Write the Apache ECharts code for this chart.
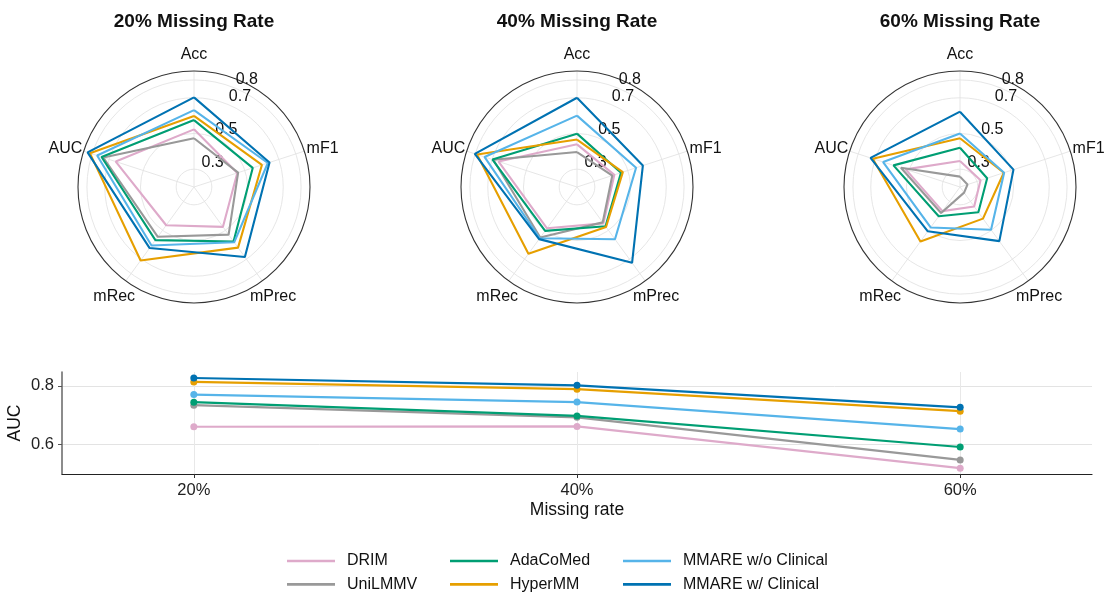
<!DOCTYPE html>
<html>
<head>
<meta charset="utf-8">
<script src="https://cdn.jsdelivr.net/npm/echarts@6/dist/echarts.min.js"></script>
<style>
html,body{margin:0;padding:0;background:#fff;}
#c{width:1105px;height:592px;}
</style>
</head>
<body>
<div id="c"></div>
<script>
// ---------- data ----------
const categories = ['Acc', 'mF1', 'mPrec', 'mRec', 'AUC'];
const methods = ['DRIM', 'UniLMMV', 'AdaCoMed', 'HyperMM', 'MMARE w/o Clinical', 'MMARE w/ Clinical'];
const colors = ['#DEAACA', '#999999', '#009E73', '#E69F00', '#56B4E9', '#0072B2'];
const missingRates = [20, 40, 60];
const rateTitles = ['20% Missing Rate', '40% Missing Rate', '60% Missing Rate'];

// radar values per method: [Acc, mF1, mPrec, mRec]  (AUC taken from the AUC arrays below)
const radar20 = [
  [0.523, 0.455, 0.476, 0.465],
  [0.473, 0.460, 0.530, 0.545],
  [0.575, 0.546, 0.577, 0.568],
  [0.598, 0.600, 0.620, 0.709],
  [0.631, 0.635, 0.583, 0.605],
  [0.702, 0.645, 0.685, 0.623]
];
const radar40 = [
  [0.439, 0.420, 0.452, 0.486],
  [0.396, 0.408, 0.445, 0.550],
  [0.499, 0.459, 0.472, 0.504],
  [0.466, 0.470, 0.477, 0.663],
  [0.600, 0.548, 0.562, 0.555],
  [0.700, 0.588, 0.725, 0.561]
];
const radar60 = [
  [0.346, 0.321, 0.335, 0.367],
  [0.258, 0.244, 0.239, 0.380],
  [0.420, 0.360, 0.375, 0.403],
  [0.473, 0.458, 0.419, 0.577],
  [0.500, 0.460, 0.496, 0.480],
  [0.622, 0.515, 0.575, 0.507]
];

// AUC per method at 20%, 40%, 60%
const aucDRIM     = [0.661, 0.662, 0.520];
const aucUniLMMV  = [0.7345, 0.693, 0.548];
const aucAdaCoMed = [0.7446, 0.698, 0.592];
const aucHyperMM  = [0.8136, 0.789, 0.714];
const aucMMAREwo  = [0.7706, 0.745, 0.653];
const aucMMAREw   = [0.827, 0.802, 0.727];

const radialTicks = [0.3, 0.5, 0.7, 0.8];
const aucTicks = [0.6, 0.8];

// ---------- build ----------
const aucAll = [aucDRIM, aucUniLMMV, aucAdaCoMed, aucHyperMM, aucMMAREwo, aucMMAREw];
const radarAll = [radar20, radar40, radar60];
const catIndex = categories.map((c, j) => j);
const centersX = [194, 577, 960];
const centerY = 187;
const R = 116;
const rMin = 0.2, rMax = 0.85;
const pxPerUnit = R / (rMax - rMin);
const labelAlong = 12.2, labelPerp = 7.7;
const rlAngle = 22.5 * Math.PI / 180;
const font = 'Liberation Sans, Arial, sans-serif';

const richStyles = {
  Acc:   {padding: [0, 0, 69, 0]},
  mF1:   {padding: [0, 0, 22, 27]},
  mPrec: {padding: [58, 0, 0, 3]},
  mRec:  {padding: [58, 6, 0, 0]},
  AUC:   {padding: [0, 26, 22, 0]}
};
Object.keys(richStyles).forEach(k => {
  Object.assign(richStyles[k], {fontSize: 16, lineHeight: 16, color: '#111', fontFamily: font});
});

const polar = [], angleAxis = [], radiusAxis = [], title = [], series = [];

for (let i = 0; i < 3; i++) {
  const cx = centersX[i];
  polar.push({center: [cx, centerY], radius: R});
  angleAxis.push({
    polarIndex: i, type: 'value', min: 0, max: categories.length, startAngle: 90, clockwise: true,
    axisLine: {show: true, lineStyle: {color: '#333', width: 1.1}},
    axisTick: {show: false, customValues: catIndex},
    splitLine: {show: true, lineStyle: {color: '#e3e3e3', width: 0.9}},
    axisLabel: {margin: -26, customValues: catIndex,
      formatter: v => { const n = categories[Math.round(v)]; return '{' + n + '|' + n + '}'; },
      rich: richStyles}
  });
  radiusAxis.push({
    polarIndex: i, type: 'value', min: rMin, max: rMax,
    axisLine: {show: false}, axisLabel: {show: false},
    axisTick: {show: false, customValues: radialTicks},
    splitLine: {show: true, lineStyle: {color: '#e3e3e3', width: 0.9}}
  });
  title.push({
    text: rateTitles[i], left: cx, top: 12, textAlign: 'center', padding: 0,
    textStyle: {fontSize: 19, fontWeight: 'bold', color: '#111', fontFamily: font}
  });
}
for (let i = 0; i < 3; i++) {
  const cx = centersX[i] + labelPerp * Math.cos(rlAngle);
  const cy = centerY + labelPerp * Math.sin(rlAngle);
  polar.push({center: [cx, cy], radius: R + labelAlong});
  angleAxis.push({polarIndex: 3 + i, type: 'value', min: 0, max: 360, startAngle: 67.5, show: false,
    axisLine: {show: false}, axisTick: {show: false}, axisLabel: {show: false}, splitLine: {show: false}});
  radiusAxis.push({
    polarIndex: 3 + i, type: 'value', min: rMin - labelAlong / pxPerUnit, max: rMax,
    axisLine: {show: false}, axisTick: {show: false}, splitLine: {show: false},
    axisLabel: {show: true, customValues: radialTicks, margin: 0, align: 'center', verticalAlign: 'middle',
      fontSize: 16, color: '#111', fontFamily: font, formatter: v => v.toFixed(1)}
  });
}

for (let i = 0; i < 3; i++) {
  const vals = radarAll[i];
  methods.forEach((m, k) => {
    const row = vals[k].concat([aucAll[k][i]]);
    const data = categories.map((c, j) => [row[j], j]);
    data.push([row[0], categories.length]);
    series.push({
      name: m, type: 'line', coordinateSystem: 'polar', polarIndex: i, clip: false,
      data: data, showSymbol: false, symbol: 'none', silent: true,
      lineStyle: {color: colors[k], width: 2.1}, itemStyle: {color: colors[k]}, z: 2 + k
    });
  });
}

methods.forEach((m, k) => {
  series.push({
    name: m, type: 'line', xAxisIndex: 0, yAxisIndex: 0,
    data: missingRates.map((r, j) => [r, aucAll[k][j]]),
    symbol: 'circle', symbolSize: 7, showSymbol: true,
    lineStyle: {color: colors[k], width: 2.2}, itemStyle: {color: colors[k]}, z: 2 + k
  });
});

const legendCommon = {
  orient: 'vertical', icon: 'rect', itemWidth: 48, itemHeight: 2.6, itemGap: 7.4,
  selectedMode: false, padding: 0, height: 80,
  textStyle: {fontSize: 16, color: '#111', fontFamily: font, lineHeight: 16, padding: [0, 0, 0, 7]}
};

const option = {
  animation: false,
  backgroundColor: '#fff',
  textStyle: {fontFamily: font},
  title: title,
  polar: polar,
  angleAxis: angleAxis,
  radiusAxis: radiusAxis,
  grid: {left: 62, right: 13, top: 372, bottom: 118, outerBoundsMode: 'none', containLabel: false},
  xAxis: {
    type: 'value', min: 13.12, max: 66.88,
    name: 'Missing rate', nameLocation: 'middle', nameGap: 27, nameMoveOverlap: false,
    nameTextStyle: {fontSize: 17.5, color: '#111', fontFamily: font},
    axisLine: {show: true, lineStyle: {color: '#222', width: 1.2}},
    axisTick: {show: true, length: 4, customValues: missingRates, lineStyle: {color: '#333'}},
    axisLabel: {customValues: missingRates, formatter: v => v + '%', fontSize: 16.5, color: '#222', margin: 8, fontFamily: font},
    splitLine: {show: true, lineStyle: {color: '#e8e8e8', width: 1}}
  },
  yAxis: {
    type: 'value', min: 0.5, max: 0.8475,
    name: 'AUC', nameLocation: 'middle', nameGap: 38, nameMoveOverlap: false,
    nameTextStyle: {fontSize: 17.5, color: '#111', fontFamily: font},
    axisLine: {show: true, lineStyle: {color: '#666', width: 1.5}},
    axisTick: {show: true, length: 4, customValues: aucTicks, lineStyle: {color: '#555'}},
    axisLabel: {customValues: aucTicks, formatter: v => v.toFixed(1), fontSize: 16.5, color: '#222', margin: 8, fontFamily: font},
    splitLine: {show: true, lineStyle: {color: '#e3e3e3', width: 1}}
  },
  legend: [
    Object.assign({left: 287, top: 553, data: [methods[0], methods[1]]}, legendCommon),
    Object.assign({left: 450, top: 553, data: [methods[2], methods[3]]}, legendCommon),
    Object.assign({left: 623, top: 553, data: [methods[4], methods[5]]}, legendCommon)
  ],
  series: series
};

const chart = echarts.init(document.getElementById('c'), null, {renderer: 'canvas'});
chart.setOption(option);
</script>
</body>
</html>
